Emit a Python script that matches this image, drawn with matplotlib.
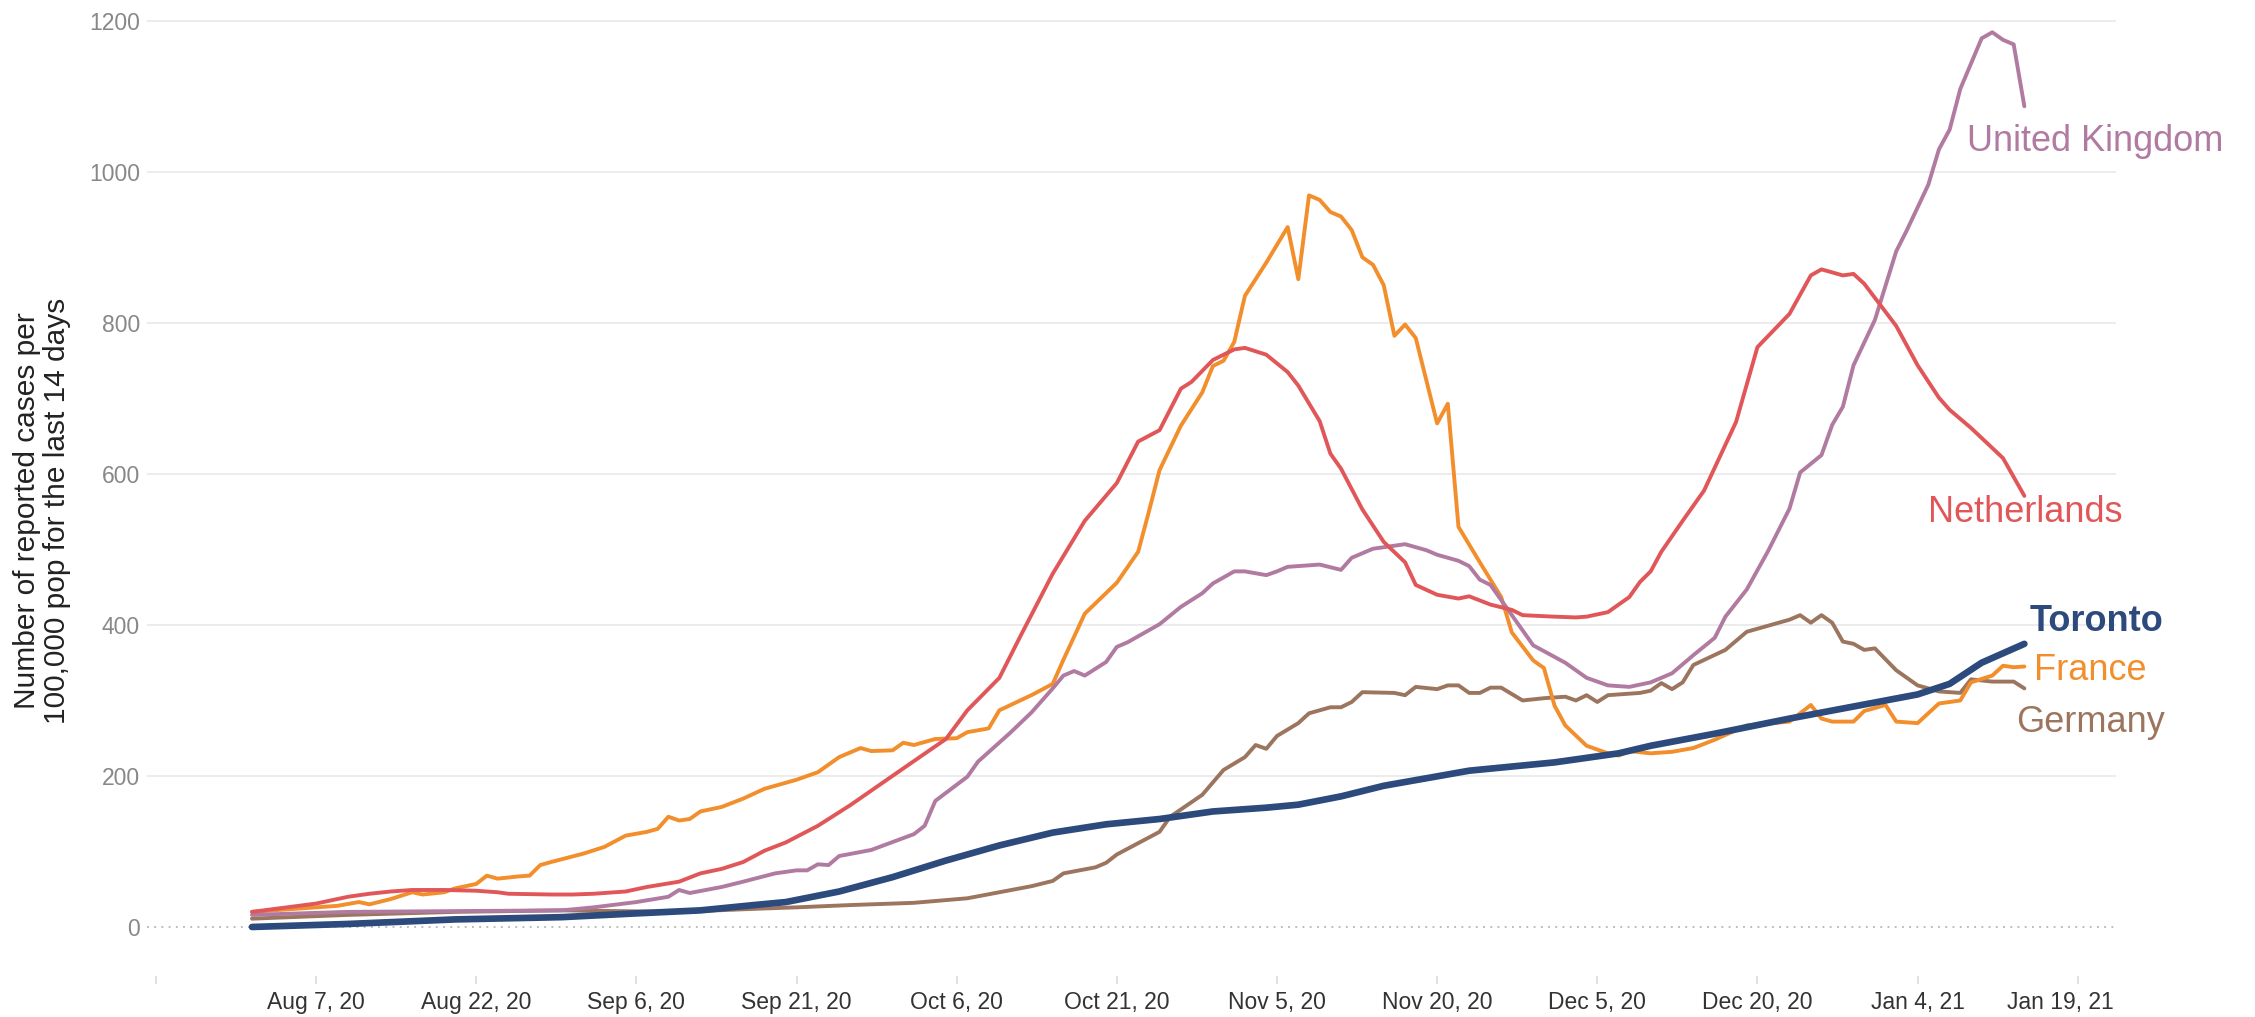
import numpy as np
import matplotlib
matplotlib.use("Agg")
import matplotlib.pyplot as plt
import matplotlib.transforms as mtransforms

plt.rcParams['font.family'] = ['Liberation Sans', 'DejaVu Sans']

# day offsets are counted from Aug 1, 2020
START = np.datetime64('2020-08-01')

toronto_days = [0, 9, 19, 29, 36, 42, 47, 50, 55, 60, 65, 70, 75, 80, 85, 90, 95, 98,
                102, 106, 114, 122, 128, 131, 137, 144, 150, 156, 159, 162, 166]
toronto_vals = [0, 4, 10, 13, 18, 22, 29, 33, 47, 66, 88, 108, 125, 136, 143, 153, 158, 162,
                173, 187, 207, 218, 230, 240, 256, 276, 292, 308, 322, 350, 375]

nl_days = [0, 6, 9, 11, 13, 15, 18, 21, 23, 24, 28, 30, 32, 35, 37, 40, 42, 44, 46, 48, 50,
           53, 56, 61, 65, 67, 70, 72, 75, 78, 81, 83, 85, 87, 88, 90, 92, 93, 95, 97, 98,
           100, 101, 102, 104, 106, 108, 109, 111, 113, 114, 116, 118, 119, 122, 124, 125,
           127, 129, 130, 131, 132, 134, 136, 139, 141, 144, 146, 147, 149, 150, 151, 154,
           156, 158, 159, 161, 164, 166]
nl_vals = [20, 31, 40, 44, 47, 49, 49, 48, 46, 44, 43, 43, 44, 47, 53, 60, 71, 77, 86, 101, 112,
           134, 161, 210, 249, 287, 330, 386, 468, 538, 588, 643, 658, 713, 722, 751, 765, 767,
           758, 735, 717, 670, 627, 607, 553, 510, 483, 453, 440, 435, 438, 427, 420, 413, 411,
           410, 411, 417, 437, 457, 471, 497, 538, 578, 669, 768, 812, 863, 871, 863, 865, 852,
           796, 744, 701, 685, 661, 621, 571]

fr_days = [0, 4, 8, 10, 11, 13, 15, 16, 18, 19, 21, 22, 23, 25, 26, 27, 28, 31, 33, 35, 37,
           38, 39, 40, 41, 42, 44, 46, 48, 50, 51, 53, 55, 57, 58, 60, 61, 62, 64, 66, 67, 69,
           70, 73, 75, 76, 78, 81, 83, 84, 85, 87, 89, 90, 91, 92, 93, 95, 97, 98, 99, 100,
           101, 102, 103, 104, 105, 106, 107, 108, 109, 111, 112, 113, 115, 117, 118, 120, 121,
           122, 123, 125, 127, 128, 129, 131, 133, 135, 137, 140, 144, 146, 147, 148, 150, 151,
           153, 154, 156, 158, 160, 161, 163, 164, 165, 166]
fr_vals = [20, 24, 28, 33, 30, 37, 46, 43, 46, 51, 57, 68, 64, 67, 68, 82, 86, 97, 106, 121, 126,
           130, 146, 141, 143, 153, 159, 170, 183, 191, 195, 205, 225, 237, 233, 234, 244, 241,
           249, 250, 258, 263, 287, 307, 322, 354, 415, 456, 497, 550, 605, 664, 708, 743, 750,
           775, 836, 880, 927, 858, 969, 963, 947, 941, 923, 887, 877, 850, 783, 798, 780, 667,
           693, 530, 483, 437, 390, 353, 343, 293, 267, 240, 230, 227, 233, 230, 232, 237, 248,
           267, 272, 294, 276, 272, 272, 286, 294, 272, 270, 296, 300, 324, 333, 346, 344, 345]

uk_days = [0, 9, 19, 29, 32, 36, 39, 40, 41, 44, 46, 49, 51, 52, 53, 54, 55, 58, 62, 63, 64,
           67, 68, 71, 73, 75, 76, 77, 78, 80, 81, 82, 85, 87, 89, 90, 92, 93, 95, 96, 97, 100,
           102, 103, 105, 108, 110, 111, 113, 114, 115, 116, 118, 120, 123, 125, 127, 129, 131,
           133, 135, 137, 138, 140, 142, 144, 145, 147, 148, 149, 150, 152, 154, 155, 157, 158,
           159, 160, 162, 163, 164, 165, 166]
uk_vals = [16, 20, 21, 22, 26, 33, 40, 49, 45, 53, 60, 71, 75, 75, 83, 82, 94, 102, 123, 134, 167,
           199, 219, 257, 284, 316, 333, 339, 333, 351, 371, 377, 401, 424, 442, 455, 471, 471,
           466, 471, 477, 480, 473, 489, 501, 507, 499, 493, 485, 478, 460, 453, 413, 373, 350,
           330, 320, 318, 324, 336, 360, 383, 411, 447, 498, 554, 602, 625, 665, 689, 744, 804,
           895, 923, 983, 1030, 1056, 1110, 1177, 1185, 1175, 1169, 1087]

de_days = [0, 9, 19, 29, 40, 47, 51, 56, 62, 67, 70, 73, 75, 76, 79, 80, 81, 83, 85, 86, 89,
           91, 93, 94, 95, 96, 98, 99, 101, 102, 103, 104, 107, 108, 109, 111, 112, 113, 114,
           115, 116, 117, 119, 121, 123, 124, 125, 126, 127, 130, 131, 132, 133, 134, 135, 138,
           140, 143, 144, 145, 146, 147, 148, 149, 150, 151, 152, 154, 156, 158, 160, 161, 163,
           165, 166]
de_vals = [11, 16, 20, 22, 20, 24, 26, 29, 32, 38, 46, 54, 61, 71, 79, 85, 96, 111, 126, 146, 175,
           208, 225, 241, 236, 253, 270, 283, 291, 291, 298, 311, 310, 307, 318, 315, 320, 320,
           310, 310, 317, 317, 300, 303, 305, 300, 307, 298, 307, 310, 313, 323, 315, 324, 347,
           367, 391, 403, 407, 413, 403, 413, 403, 378, 375, 367, 369, 340, 320, 312, 310, 328,
           325, 325, 316]

tick_days = [-9, 6, 21, 36, 51, 66, 81, 96, 111, 126, 141, 156, 171]
tick_labels = ['', 'Aug 7, 20', 'Aug 22, 20', 'Sep 6, 20', 'Sep 21, 20', 'Oct 6, 20',
               'Oct 21, 20', 'Nov 5, 20', 'Nov 20, 20', 'Dec 5, 20', 'Dec 20, 20',
               'Jan 4, 21', 'Jan 19, 21']
y_ticks = [0, 200, 400, 600, 800, 1000, 1200]


def to_dates(days):
    return START + np.array(days).astype('timedelta64[D]')


# name, days, values, colour, width, label position (day, value), bold
series = [
    ('Germany', de_days, de_vals, '#9c755f', 2.8, (165.2, 258), False),
    ('France', fr_days, fr_vals, '#f28e2b', 2.8, (166.9, 327), False),
    ('United Kingdom', uk_days, uk_vals, '#b07aa1', 2.8, (160.6, 1028), False),
    ('Netherlands', nl_days, nl_vals, '#e15759', 2.8, (157.0, 536), False),
    ('Toronto', toronto_days, toronto_vals, '#2c4a7c', 4.8, (166.5, 392), True),
]

W, H = 2255, 1017
fig = plt.figure(figsize=(W / 100, H / 100), dpi=100)
ax = fig.add_axes([147 / W, 33.4 / H, (2116 - 147) / W, 981.5 / H])

# grid lines
for yv in y_ticks:
    if yv == 0:
        ax.axhline(0, color='#b5b5b5', lw=1.3, ls=(0, (1, 3)), zorder=1)
    else:
        ax.axhline(yv, color='#ececec', lw=1.4, zorder=1)

for name, d, v, col, lw, (lx, ly), bold in series:
    ax.plot(to_dates(d), v, color=col, lw=lw, solid_joinstyle='round',
            solid_capstyle='round', zorder=3)
    ax.text(to_dates([lx])[0] if False else START + np.timedelta64(int(round(lx * 24)), 'h'),
            ly, name, color=col, fontsize=26, ha='left', va='baseline',
            fontweight='bold' if bold else 'normal', zorder=4)

ax.set_xlim(START + np.timedelta64(int(-9.84 * 24), 'h'),
            START + np.timedelta64(int(174.6 * 24), 'h'))
ax.set_ylim(-75, 1225)

ax.set_xticks(to_dates(tick_days))
ax.set_xticklabels(tick_labels)
ax.set_yticks(y_ticks)
ax.set_yticklabels([str(t) for t in y_ticks])

ax.tick_params(axis='x', direction='in', length=6, width=1.2, color='#dcdcdc',
               labelsize=16.5, labelcolor='#333333', pad=5)
ax.tick_params(axis='y', length=0, labelsize=16.5, labelcolor='#888888', pad=5)

# last label sits inside the axis end
last = ax.get_xticklabels()[-1]
last.set_transform(last.get_transform() + mtransforms.ScaledTranslation(-17 / 100, 0, fig.dpi_scale_trans))

for s in ax.spines.values():
    s.set_visible(False)

fig.text(42 / W, 1 - 511 / H, 'Number of reported cases per\n100,000 pop for the last 14 days',
         rotation=90, ha='center', va='center', fontsize=21.5, color='#222222',
         linespacing=1.05)

fig.savefig('out.png', dpi=100, facecolor='white')
